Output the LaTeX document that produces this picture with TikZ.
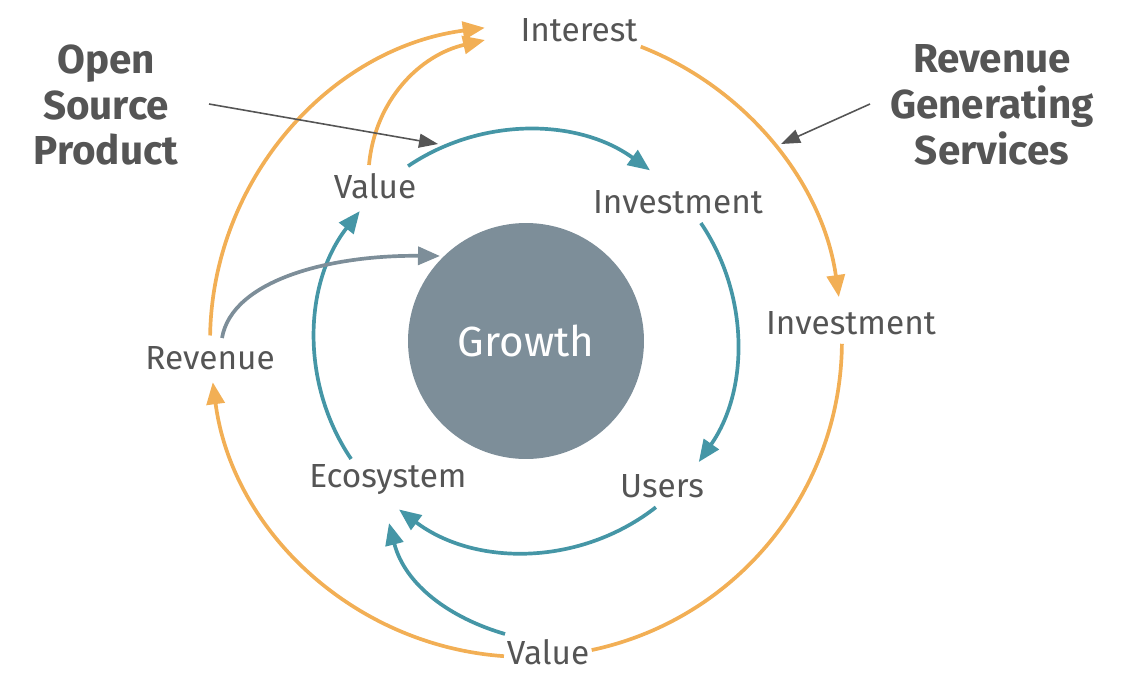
\documentclass[tikz,border=0pt]{standalone}
\usepackage{fontspec}
\setmainfont{Fira Sans}
\usetikzlibrary{arrows.meta, calc}
\definecolor{loopteal}{HTML}{4596A6}
\definecolor{looporange}{HTML}{F2AF55}
\definecolor{coregray}{HTML}{7D8E99}
\definecolor{textgray}{HTML}{555555}

\begin{document}
\begin{tikzpicture}[
    x=0.02cm, y=0.02cm,
    lbl/.style={text=textgray, font=\fontsize{19}{22}\selectfont, inner sep=2pt},
    head/.style={text=textgray, font=\fontsize{23}{26}\selectfont\bfseries, align=center},
    core/.style={circle, fill=coregray, minimum size=4.72cm, text=white,
                 font=\fontsize{24}{28}\selectfont},
    tarr/.style={draw=loopteal, line width=2.1pt, -{Triangle[length=0.44cm, width=0.36cm]}},
    oarr/.style={draw=looporange, line width=2.1pt, -{Triangle[length=0.44cm, width=0.36cm]}},
    oline/.style={draw=looporange, line width=2.1pt},
    garr/.style={draw=coregray, line width=2.1pt, -{Triangle[length=0.44cm, width=0.36cm]}},
    narr/.style={draw=textgray, line width=0.9pt, -{Triangle[length=0.38cm, width=0.28cm]}},
]
\useasboundingbox (0,0) rectangle (1140,-680);

% Core
\node[core] (growth) at (526,-341) {Growth};

% Loop labels
\node[lbl] (interest)  at (579,-30)  {Interest};
\node[lbl] (valueTop)  at (375,-186) {Value};
\node[lbl] (investIn)  at (678,-202) {Investment};
\node[lbl] (investOut) at (851,-323) {Investment};
\node[lbl] (revenue)   at (210,-358) {Revenue};
\node[lbl] (eco)       at (388,-480) {Ecosystem};
\node[lbl] (users)     at (662,-486) {Users};
\node[lbl] (valueBot)  at (548,-652) {Value};

% Captions
\node[head] (osp) at (106,-105) {Open\\Source\\Product};
\node[head] (rgs) at (992,-105) {Revenue\\Generating\\Services};

% Arc ends on the inner (teal) loop
\coordinate (vt-out) at ($(growth)+(124:4.22cm)$);
\coordinate (ii-out) at ($(growth)+(34:4.22cm)$);
\coordinate (us-out) at ($(growth)+(-52:4.22cm)$);
\coordinate (ec-out) at ($(growth)+(214:4.22cm)$);

% Arc ends on the outer (orange) loop
\coordinate (rv-out) at ($(growth)+(179:6.32cm)$);
\coordinate (in-out) at ($(growth)+(68.7:6.32cm)$);
\coordinate (io-out) at ($(growth)+(-0.5:6.32cm)$);
\coordinate (vb-out) at ($(growth)+(266:6.32cm)$);

% Free ends of the side arrows
\coordinate (vt-up)   at (369,-165);
\coordinate (int-tip) at (485,-40);
\coordinate (vb-up)   at (505,-634);
\coordinate (eco-tip) at (389,-523);
\coordinate (rv-up)   at (222,-338);
\coordinate (gr-tip)  at (440,-256);
\coordinate (osp-from) at (209,-104);
\coordinate (osp-tip)  at (438,-144);
\coordinate (rgs-from) at (870,-104);
\coordinate (rgs-tip)  at (781,-144);

% Inner loop
\draw[tarr] (vt-out) arc[start angle=124, end angle=54, radius=4.22cm];
\draw[tarr] (ii-out) arc[start angle=34, end angle=-35, radius=4.22cm];
\draw[tarr] (us-out) arc[start angle=-52, end angle=-127, radius=4.22cm];
\draw[tarr] (ec-out) arc[start angle=214, end angle=142, radius=4.22cm];

% Outer loop
\draw[oarr] (rv-out) arc[start angle=179, end angle=97.5, radius=6.32cm];
\draw[oarr] (in-out) arc[start angle=68.7, end angle=8, radius=6.32cm];
\draw[oline] (io-out) arc[start angle=-0.5, end angle=-78, radius=6.32cm];
\draw[oarr] (vb-out) arc[start angle=266, end angle=187.5, radius=6.32cm];

% Cross links
\draw[oarr] (vt-up) .. controls (375,-100) and (420,-55) .. (int-tip);
\draw[tarr] (vb-up) .. controls (450,-618) and (405,-585) .. (eco-tip);
\draw[garr] (rv-up) .. controls (232,-280) and (330,-255) .. (gr-tip);

% Caption pointers
\draw[narr] (osp-from) -- (osp-tip);
\draw[narr] (rgs-from) -- (rgs-tip);

\end{tikzpicture}
\end{document}
